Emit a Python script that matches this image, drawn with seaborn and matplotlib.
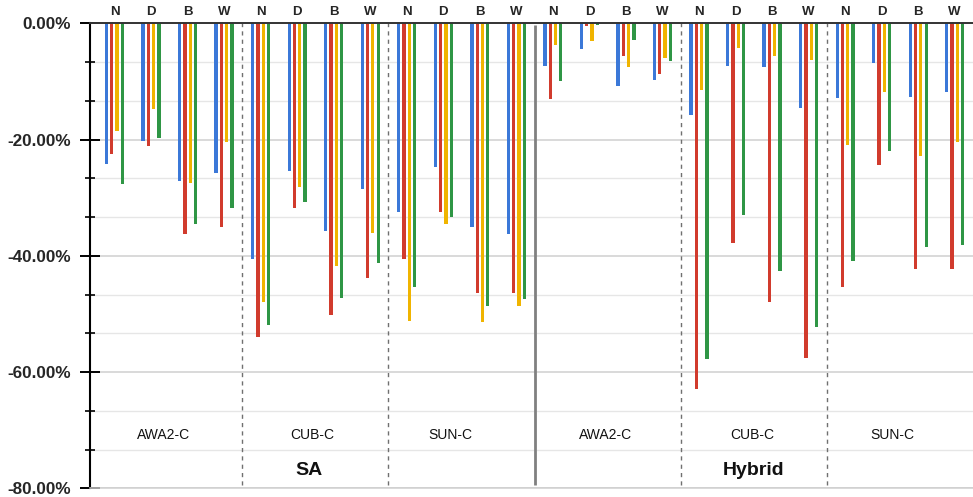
import matplotlib
matplotlib.use("Agg")
import matplotlib.pyplot as plt
import numpy as np
import pandas as pd
import seaborn as sns
from matplotlib.ticker import MultipleLocator, FuncFormatter

# ---- data -------------------------------------------------------------
settings = ["SA", "Hybrid"]
datasets = ["AWA2-C", "CUB-C", "SUN-C"]
variants = ["N", "D", "B", "W"]
series = ["Series 1", "Series 2", "Series 3", "Series 4"]
colors = ["#3b78d8", "#d13b2d", "#f0b400", "#2f9645"]

# relative change (%) per (setting, dataset, variant), in the order above
series_1 = [-24.2, -20.2, -27.2, -25.7, -40.6, -25.4, -35.7, -28.5, -32.5, -24.7, -35.0, -36.3,
            -7.3, -4.5, -10.8, -9.8, -15.8, -7.3, -7.6, -14.6, -12.9, -6.8, -12.6, -11.9]
series_2 = [-22.5, -21.1, -36.3, -35.1, -53.9, -31.7, -50.2, -43.9, -40.6, -32.5, -46.4, -46.4,
            -13.1, -0.5, -5.6, -8.8, -63.0, -37.8, -48.0, -57.5, -45.3, -24.4, -42.3, -42.3]
series_3 = [-18.5, -14.8, -27.4, -20.4, -48.0, -28.2, -41.8, -36.0, -51.2, -34.6, -51.4, -48.7,
            -3.7, -3.0, -7.6, -6.0, -11.5, -4.3, -5.7, -6.3, -20.9, -11.9, -22.8, -20.5]
series_4 = [-27.7, -19.7, -34.5, -31.8, -51.9, -30.8, -47.3, -41.3, -45.3, -33.3, -48.7, -47.4,
            -10.0, -0.3, -2.8, -6.5, -57.7, -33.0, -42.6, -52.2, -40.9, -21.9, -38.4, -38.2]

# ---- long-form table ----------------------------------------------------
slots = [f"{s}|{d}|{v}" for s in settings for d in datasets for v in variants]
rows = []
for name, vals in zip(series, [series_1, series_2, series_3, series_4]):
    for slot, val in zip(slots, vals):
        rows.append({"slot": slot, "series": name, "value": val})
df = pd.DataFrame(rows)

# ---- figure -------------------------------------------------------------
sns.set_theme(style="white")
plt.rcParams["font.family"] = ["Liberation Sans", "DejaVu Sans"]

W, H = 973, 497
fig = plt.figure(figsize=(W / 100, H / 100), dpi=100)
ax = fig.add_axes([90 / W, 1 - 488.3 / H, (W - 90) / W, 465 / H])

sns.barplot(data=df, x="slot", y="value", hue="series", order=slots,
            hue_order=series, palette=colors, width=0.58, gap=0.38,
            errorbar=None, legend=False, linewidth=0, saturation=1, ax=ax)

ax.set_xlim(-0.67, len(slots) - 0.5)
ax.set_ylim(-80, 0)
ax.set_xlabel("")
ax.set_ylabel("")

# y axis: percent labels, ticks crossing the spine
ax.yaxis.set_major_locator(MultipleLocator(20))
ax.yaxis.set_minor_locator(MultipleLocator(20 / 3))
ax.yaxis.set_major_formatter(FuncFormatter(
    lambda v, p: f"{0 if abs(v) < 1e-9 else v:.2f}%"))
ax.tick_params(axis="y", which="major", direction="inout", length=14.4,
               width=1.4, color="black", left=True, pad=6.5,
               labelsize=12.3)
ax.tick_params(axis="y", which="minor", direction="inout", length=7.7,
               width=1.2, color="black", left=True)
for lab in ax.get_yticklabels():
    lab.set_fontweight("bold")

# gridlines
ax.set_axisbelow(True)
ax.yaxis.grid(True, which="major", color="#cfcfcf", linewidth=1.1)
ax.yaxis.grid(True, which="minor", color="#e6e6e6", linewidth=1.0)
ax.xaxis.grid(False)

# variant letters along the top
ax.set_xticks(range(len(slots)))
ax.set_xticklabels([s.split("|")[2] for s in slots], fontweight="bold",
                   fontsize=9.5)
ax.tick_params(axis="x", top=True, labeltop=True, bottom=False,
               labelbottom=False, length=0, pad=3.5)

# spines
ax.spines["right"].set_visible(False)
ax.spines["left"].set_color("black")
ax.spines["left"].set_linewidth(1.5)
ax.spines["top"].set_color("#333333")
ax.spines["top"].set_linewidth(1.4)
ax.spines["bottom"].set_color("#cfcfcf")
ax.spines["bottom"].set_linewidth(1.1)

# separators between datasets and between settings
n_var = len(variants)
for k in range(1, len(settings) * len(datasets)):
    xpos = k * n_var - 0.5
    if k == len(datasets):
        ax.vlines(xpos, -79.4, -0.3, colors="#808080", linewidth=2.0)
    else:
        ax.vlines(xpos, -79.4, 0, colors="#707070", linewidth=1.0,
                  linestyles=(0, (3, 3)))

# dataset and setting captions
ds_x = [1.35, 5.4, 9.2, 13.45, 17.45, 21.3]
for i, (s, d) in enumerate([(s, d) for s in settings for d in datasets]):
    ax.text(ds_x[i], -70.8, d, ha="center", va="center", fontsize=10,
            color="#111111")
for s, xpos in zip(settings, [5.32, 17.5]):
    ax.text(xpos, -76.9, s, ha="center", va="center", fontsize=14,
            fontweight="bold", color="#111111")

fig.savefig("out.png", dpi=100)
